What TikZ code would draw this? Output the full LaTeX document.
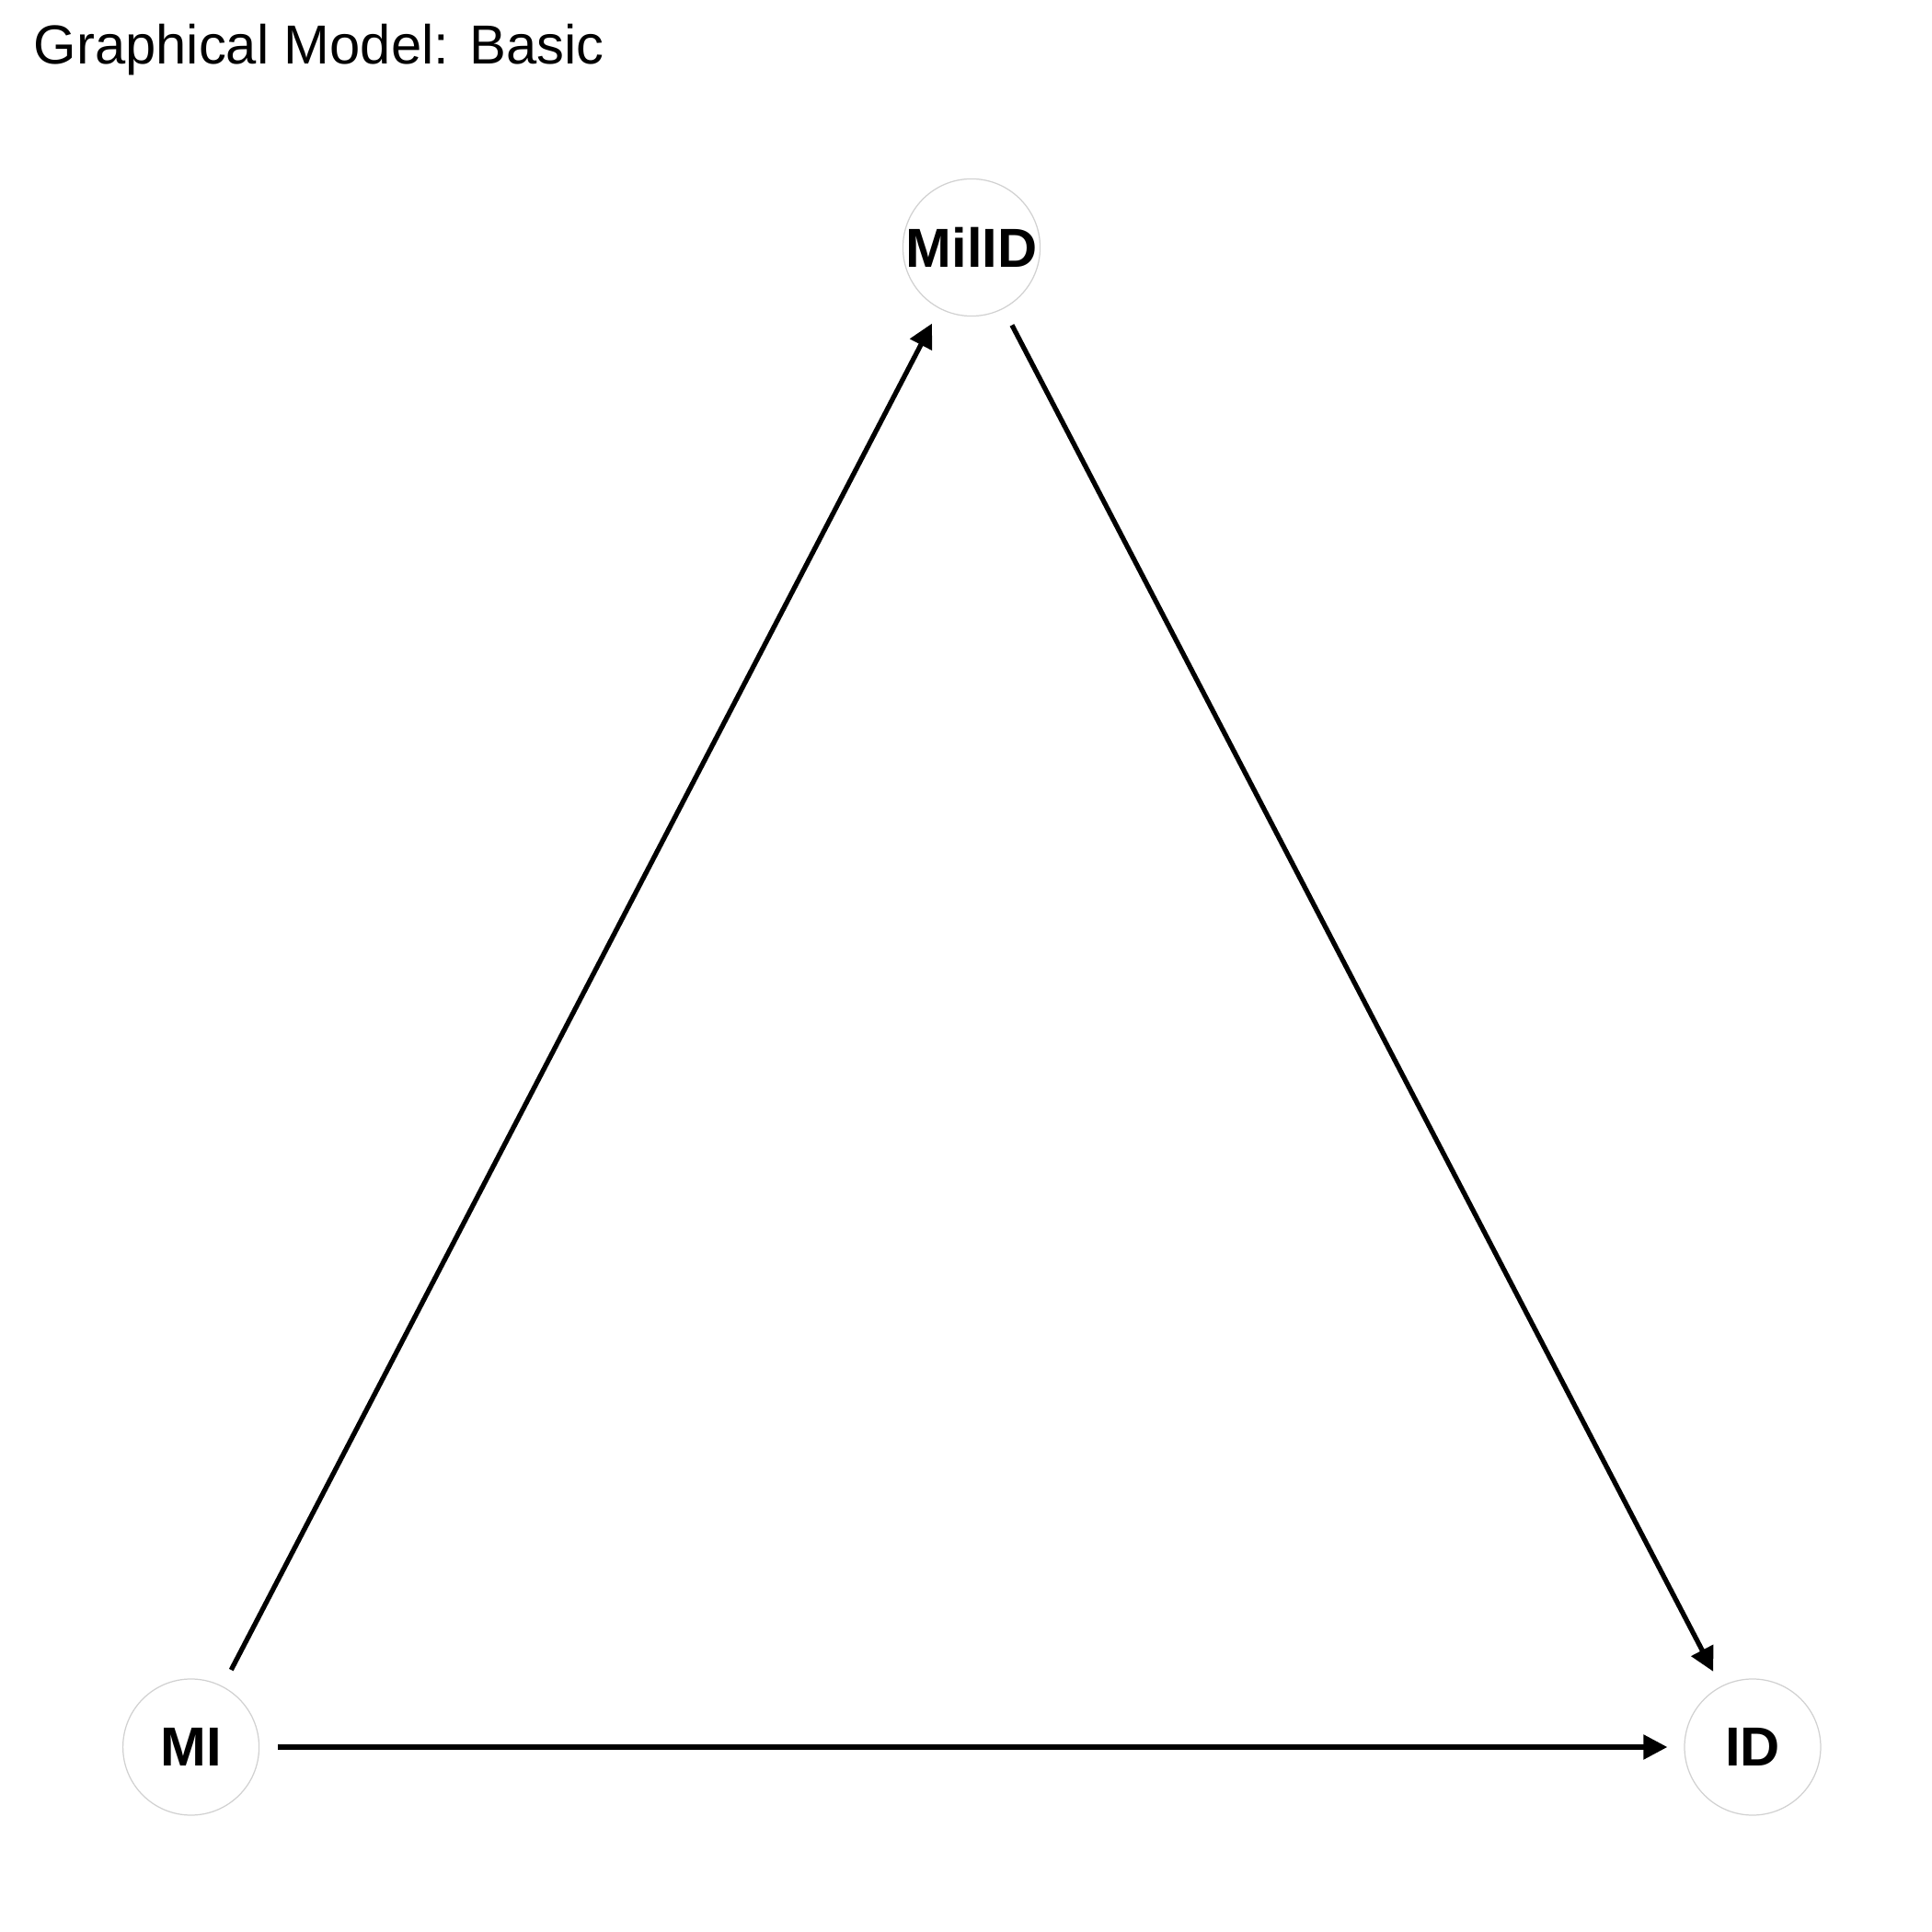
\documentclass[tikz,border=0pt]{standalone}
\usepackage{fontspec}
\setmainfont{Liberation Sans}
\usetikzlibrary{arrows.meta}
\tikzset{
  varnode/.style={circle, draw=black!18, line width=0.35pt, fill=white, minimum size=1.48cm, inner sep=0pt,
    font=\fontsize{17}{20}\selectfont\bfseries},
  edge/.style={line width=1.5pt, black, shorten <=0.2cm, shorten >=0.18cm,
    -{Triangle[length=0.26cm,width=0.26cm]}},
}
\begin{document}
\begin{tikzpicture}
\useasboundingbox[fill=white] (0,0) rectangle (21,21);
\node[anchor=base west, inner sep=0pt, font=\fontsize{17}{20}\selectfont] (title) at (0.36,20.30) {Graphical Model: Basic};
\node[varnode] (mild) at (10.56,18.31) {MilID};
\node[varnode] (mi) at (2.076,2.01) {MI};
\node[varnode] (id) at (19.05,2.01) {ID};
\draw[edge] (mi) -- (mild);
\draw[edge] (mild) -- (id);
\draw[edge] (mi) -- (id);
\end{tikzpicture}
\end{document}
